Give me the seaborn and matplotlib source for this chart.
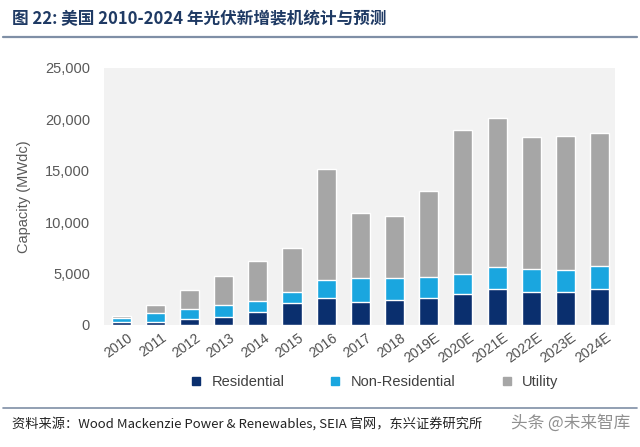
import matplotlib
matplotlib.use("Agg")
import matplotlib.pyplot as plt
import matplotlib.transforms as mtransforms
import seaborn as sns
import pandas as pd
from matplotlib.lines import Line2D

years = ["2010", "2011", "2012", "2013", "2014", "2015", "2016", "2017", "2018",
         "2019E", "2020E", "2021E", "2022E", "2023E", "2024E"]
residential = [250, 320, 550, 800, 1230, 2180, 2660, 2200, 2430, 2660, 2990, 3540, 3180, 3250, 3540]
non_residential = [450, 820, 1010, 1110, 1140, 1070, 1720, 2350, 2170, 1980, 2010, 2140, 2270, 2140, 2210]
utility = [150, 760, 1850, 2860, 3900, 4250, 10820, 6330, 6000, 8360, 14000, 14420, 12800, 13010, 12950]

colors = {"Residential": "#0a2f6e", "Non-Residential": "#1aa6df", "Utility": "#a6a6a6"}

df = pd.DataFrame({"year": years, "res": residential, "nonres": non_residential, "util": utility})
df["lvl2"] = df["res"] + df["nonres"]
df["total"] = df["lvl2"] + df["util"]

sns.set_style("white")
plt.rcParams["font.family"] = ["Liberation Sans", "Noto Sans CJK SC", "DejaVu Sans"]

fig = plt.figure(figsize=(6.4, 4.47), dpi=100)
ax = fig.add_axes([0.1625, 0.273, 0.7985, 0.575])
ax.set_facecolor("#f2f2f2")

# stacked look: draw cumulative totals on top of each other
sns.barplot(data=df, x="year", y="total", color=colors["Utility"], width=0.56, saturation=1, ax=ax)
sns.barplot(data=df, x="year", y="lvl2", color=colors["Non-Residential"], width=0.56, saturation=1, ax=ax)
sns.barplot(data=df, x="year", y="res", color=colors["Residential"], width=0.56, saturation=1, ax=ax)

ax.set_xlim(-0.5, 14.45)
ax.set_ylim(0, 25000)
ax.set_yticks(range(0, 25001, 5000))
ax.set_yticklabels([f"{v:,}" for v in range(0, 25001, 5000)])
ax.tick_params(axis="y", labelsize=10.5, colors="#595959", length=0, pad=10)
ax.tick_params(axis="x", labelsize=10, colors="#505050", length=0, pad=4)
ax.set_xlabel("")
ax.set_ylabel("Capacity (MWdc)", fontsize=10.5, color="#595959", labelpad=10)
for s in ax.spines.values():
    s.set_visible(False)

# rotated year labels, end sitting near the bar
offset = mtransforms.ScaledTranslation(4 / 72, 0, fig.dpi_scale_trans)
for lab in ax.get_xticklabels():
    lab.set_rotation(36)
    lab.set_ha("right")
    lab.set_va("top")
    lab.set_rotation_mode("anchor")
    lab.set_transform(lab.get_transform() + offset)

handles = [Line2D([], [], marker="s", linestyle="", markersize=6,
                  color=colors[k], label=k) for k in ["Residential", "Non-Residential", "Utility"]]
fig.legend(handles=handles, loc="center", bbox_to_anchor=(0.578, 0.146), ncol=3, frameon=False,
           fontsize=10.5, handletextpad=0.05, columnspacing=2.5, labelcolor="#404040")

# title and rules
fig.text(0.019, 0.957, "图 22: 美国 2010-2024 年光伏新增装机统计与预测", fontsize=12, fontweight="bold",
         color="#1f3a64", va="center", family=["Noto Sans CJK SC", "DejaVu Sans"])
fig.add_artist(Line2D([0.005, 0.995], [0.918, 0.918], color="#7f8fa6", linewidth=1.6))
fig.add_artist(Line2D([0.005, 0.995], [0.087, 0.087], color="#7f8fa6", linewidth=1.2))
fig.text(0.019, 0.053, "资料来源：Wood Mackenzie Power & Renewables, SEIA 官网，东兴证券研究所", fontsize=9.5,
         style="italic", color="#222222", va="center", family=["Noto Sans CJK SC", "DejaVu Sans"])
fig.text(0.985, 0.053, "头条 @未来智库", fontsize=12, color="#333333", alpha=0.55, ha="right", va="center",
         family=["Noto Sans CJK SC", "DejaVu Sans"])

fig.savefig("out.png", dpi=100)
